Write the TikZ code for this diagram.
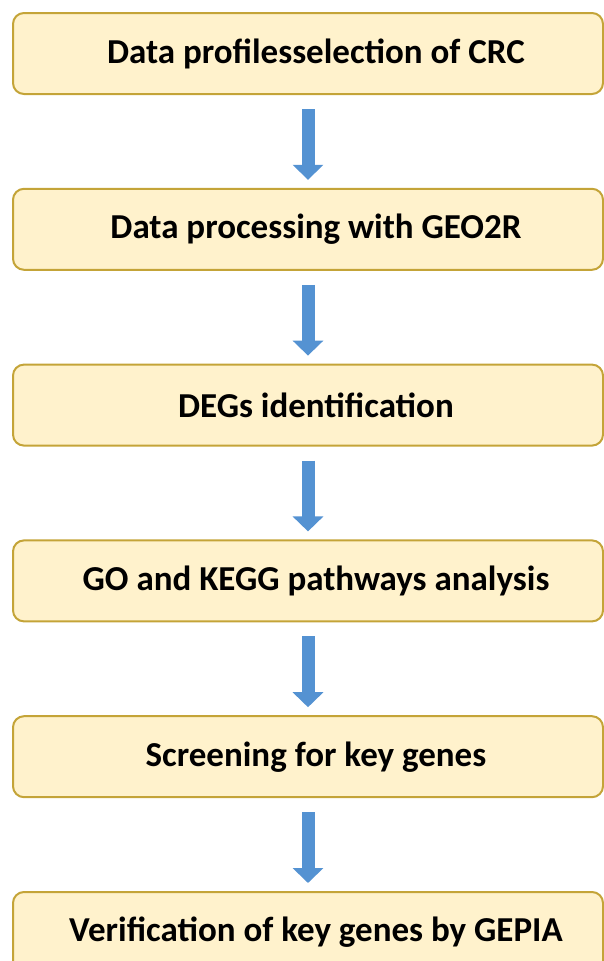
\documentclass[tikz,border=0pt]{standalone}
\usepackage{fontspec}
\setmainfont{Carlito}
\usetikzlibrary{positioning,arrows.meta}
\definecolor{boxfill}{RGB}{255,242,204}
\definecolor{boxline}{RGB}{196,164,56}
\definecolor{arrowblue}{RGB}{84,146,210}
\tikzset{node distance=92.8pt, auto}

\begin{document}
\begin{tikzpicture}[
  x=1pt, y=1pt,
  stage/.style={draw=boxline, line width=2pt, fill=boxfill, rounded corners=11pt,
    minimum width=590pt, minimum height=81pt,
    font=\fontsize{35}{40}\selectfont\bfseries,
    execute at begin node=\hspace*{16pt}},
  flow/.style={draw=arrowblue, line width=13pt,
    -{Triangle[width=30pt,length=15pt]}, shorten <=14pt, shorten >=8pt}
]
\useasboundingbox (0,0) rectangle (604,-961);
\clip (0,0) rectangle (604,-961);
\node[stage] (select) at (308,-53.5) {Data profilesselection of CRC};
\node[stage, below=of select] (process) {Data processing with GEO2R};
\node[stage, below=of process] (degs) {DEGs identification};
\node[stage, below=of degs] (enrich) {GO and KEGG pathways analysis};
\node[stage, below=of enrich] (screen) {Screening for key genes};
\node[stage, below=of screen] (verify) {Verification of key genes by GEPIA};
\draw[flow] (select) -- (process);
\draw[flow] (process) -- (degs);
\draw[flow] (degs) -- (enrich);
\draw[flow] (enrich) -- (screen);
\draw[flow] (screen) -- (verify);
\end{tikzpicture}
\end{document}
